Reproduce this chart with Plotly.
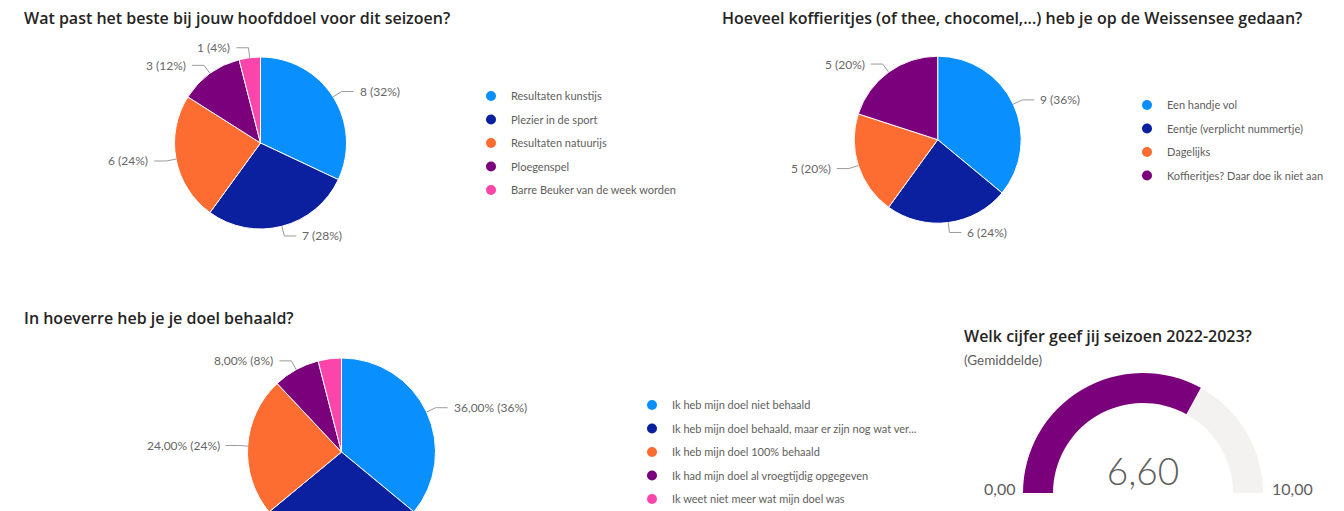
import math
import plotly.graph_objects as go

# ---------------- data ----------------
q1_title = "Wat past het beste bij jouw hoofddoel voor dit seizoen?"
q1_labels = ["Resultaten kunstijs", "Plezier in de sport", "Resultaten natuurijs",
             "Ploegenspel", "Barre Beuker van de week worden"]
q1_values = [8, 7, 6, 3, 1]

q2_title = "Hoeveel koffieritjes (of thee, chocomel,...) heb je op de Weissensee gedaan?"
q2_labels = ["Een handje vol", "Eentje (verplicht nummertje)", "Dagelijks",
             "Koffieritjes? Daar doe ik niet aan"]
q2_values = [9, 6, 5, 5]

q3_title = "In hoeverre heb je je doel behaald?"
q3_labels = ["Ik heb mijn doel niet behaald",
             "Ik heb mijn doel behaald, maar er zijn nog wat ver...",
             "Ik heb mijn doel 100% behaald",
             "Ik had mijn doel al vroegtijdig opgegeven",
             "Ik weet niet meer wat mijn doel was"]
q3_values = [36.0, 28.0, 24.0, 8.0, 4.0]
q3_show_label = [True, False, True, True, False]

q4_title = "Welk cijfer geef jij seizoen 2022-2023?"
q4_subtitle = "(Gemiddelde)"
q4_value = 6.6
q4_range = [0, 10]

colors = ["#0A8FFF", "#0A209F", "#FD6C30", "#7B007B", "#FB45AA"]

# ---------------- layout helpers ----------------
W, H = 1344, 560
TITLE_FONT = dict(family="Open Sans, Roboto, sans-serif", size=16, color="#252423", weight=600)
LABEL_FONT = dict(family="Segoe UI, Lato, sans-serif", size=12, color="#666666")
LEGEND_FONT = dict(family="Segoe UI, Lato, sans-serif", size=11, color="#605E5C")
LINE_COLOR = "#9A9A9A"


def px(x):
    return x / W


def py(y):
    return 1 - y / H


fig = go.Figure()
annotations = []
shapes = []


def add_pie(labels, values, cx, cy, r, legend_name, fmt, show=None):
    fig.add_trace(go.Pie(
        labels=labels, values=values, sort=False, direction="clockwise", rotation=0,
        marker=dict(colors=colors[:len(values)], line=dict(color="white", width=1)),
        textinfo="none", showlegend=False, hoverinfo="label+value+percent",
        domain=dict(x=[px(cx - r), px(cx + r)], y=[py(cy + r), py(cy - r)]),
    ))
    total = sum(values)
    cum = 0
    for i, v in enumerate(values):
        mid = (cum + v / 2) / total
        cum += v
        if show is not None and not show[i]:
            continue
        th = 2 * math.pi * mid
        dx, dy = math.sin(th), -math.cos(th)
        p1 = (cx + r * dx, cy + r * dy)
        p2 = (cx + (r + 10) * dx, cy + (r + 10) * dy)
        s = 1 if dx >= 0 else -1
        p3 = (p2[0] + s * 12, p2[1])
        shapes.append(dict(
            type="path", xref="paper", yref="paper",
            path=f"M {px(p1[0])} {py(p1[1])} L {px(p2[0])} {py(p2[1])} L {px(p3[0])} {py(p3[1])}",
            line=dict(color=LINE_COLOR, width=1)))
        pct = round(100 * v / total)
        annotations.append(dict(
            x=px(p3[0] + s * 4), y=py(p3[1]), xref="paper", yref="paper",
            text=fmt(v, pct), showarrow=False, font=LABEL_FONT,
            xanchor="left" if s > 0 else "right", yanchor="middle"))
    # legend entries (circle markers)
    for lab, c in zip(labels, colors):
        fig.add_trace(go.Scatter(
            x=[None], y=[None], mode="markers", name=lab,
            marker=dict(color=c, size=10, symbol="circle"),
            legend=legend_name, legendgroup=legend_name + lab, showlegend=True,
            hoverinfo="skip"))


def count_fmt(v, pct):
    return f"{v} ({pct}%)"


def pct_fmt(v, pct):
    return f"{v:.2f}".replace(".", ",") + f"% ({pct}%)"


add_pie(q1_labels, q1_values, 260.5, 143, 86, "legend", count_fmt)
add_pie(q2_labels, q2_values, 937.7, 139.7, 83.5, "legend2", count_fmt)
add_pie(q3_labels, q3_values, 341.5, 452, 94, "legend3", pct_fmt, q3_show_label)

# gauge
gcx, gcy, gr = 1143, 493, 120
fig.add_trace(go.Indicator(
    mode="gauge+number", value=q4_value,
    number=dict(valueformat=".2f",
                font=dict(family="Lato, Segoe UI, sans-serif", size=37, color="#605E5C", weight=300)),
    gauge=dict(shape="angular", axis=dict(range=q4_range, visible=False),
               bar=dict(color="#7B007B", thickness=1), bgcolor="#F3F2F1",
               borderwidth=0),
    domain=dict(x=[px(gcx - gr), px(gcx + gr)], y=[py(gcy), py(gcy - gr)]),
))
range_font = dict(family="Segoe UI, Lato, sans-serif", size=16, color="#605E5C")
annotations.append(dict(x=px(gcx - gr - 6), y=py(488), xref="paper", yref="paper",
                        text=f"{q4_range[0]:.2f}".replace(".", ","), showarrow=False,
                        font=range_font, xanchor="right", yanchor="middle"))
annotations.append(dict(x=px(gcx + gr + 7), y=py(488), xref="paper", yref="paper",
                        text=f"{q4_range[1]:.2f}".replace(".", ","), showarrow=False,
                        font=range_font, xanchor="left", yanchor="middle"))

# titles
for t, x, y in [(q1_title, 22, 18), (q2_title, 720, 18), (q3_title, 22, 318), (q4_title, 962, 336)]:
    annotations.append(dict(x=px(x), y=py(y), xref="paper", yref="paper", text=t,
                            showarrow=False, font=TITLE_FONT, xanchor="left", yanchor="middle"))
annotations.append(dict(x=px(962), y=py(360), xref="paper", yref="paper", text=q4_subtitle,
                        showarrow=False, font=dict(family="Segoe UI, Lato, sans-serif", size=13.5, color="#605E5C"),
                        xanchor="left", yanchor="middle"))

legend_common = dict(font=LEGEND_FONT, bgcolor="rgba(0,0,0,0)", borderwidth=0,
                     traceorder="grouped", tracegroupgap=4.5, xanchor="left", yanchor="top",
                     itemclick=False, itemdoubleclick=False)

fig.update_layout(
    width=W, height=H, margin=dict(l=0, r=0, t=0, b=0),
    paper_bgcolor="white", plot_bgcolor="white",
    separators=",.",
    xaxis=dict(visible=False), yaxis=dict(visible=False),
    legend=dict(x=px(471), y=py(81.5), **legend_common),
    legend2=dict(x=px(1127), y=py(90.5), **legend_common),
    legend3=dict(x=px(632), y=py(390.5), **legend_common),
    annotations=annotations, shapes=shapes,
    showlegend=True,
)

fig.write_html("out.html", post_script="document.body.style.margin='0';document.body.style.overflow='hidden';document.documentElement.style.overflow='hidden';")
